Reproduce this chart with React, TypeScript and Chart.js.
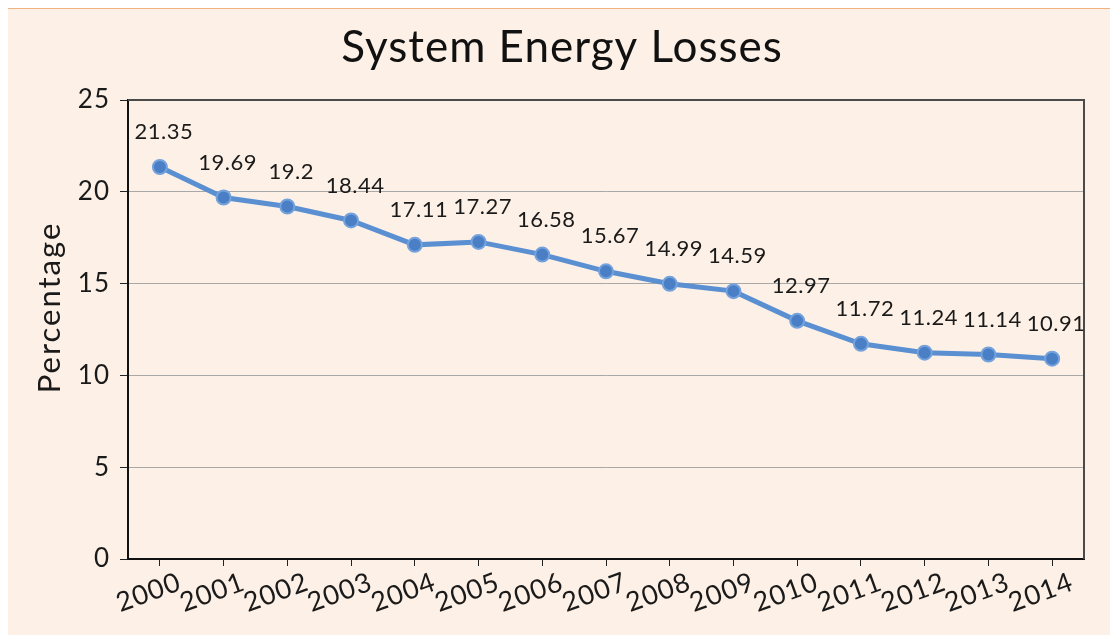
import React, { useEffect, useRef } from "react";
import { Chart, registerables } from "chart.js";

Chart.register(...registerables);

const years = ["2000","2001","2002","2003","2004","2005","2006","2007","2008","2009","2010","2011","2012","2013","2014"];
const losses = [21.35, 19.69, 19.2, 18.44, 17.11, 17.27, 16.58, 15.67, 14.99, 14.59, 12.97, 11.72, 11.24, 11.14, 10.91];
const yTicks = [0, 5, 10, 15, 20, 25];
const chartTitle = "System Energy Losses";
const yTitle = "Percentage";

const FONT = "Lato, 'Open Sans', sans-serif";

const spacingPlugin = {
  id: "spacing",
  beforeUpdate(chart: any) {
    chart.ctx.letterSpacing = "1px";
  },
  beforeDraw(chart: any) {
    chart.ctx.letterSpacing = "1px";
  },
};

const framePlugin = {
  id: "frame",
  beforeDatasetsDraw(chart: any) {
    const { ctx, chartArea: a } = chart;
    ctx.save();
    ctx.strokeStyle = "#4a4a4a";
    ctx.lineWidth = 2;
    ctx.beginPath();
    ctx.moveTo(a.left, a.top);
    ctx.lineTo(a.right, a.top);
    ctx.lineTo(a.right, a.bottom);
    ctx.stroke();
    ctx.restore();
  },
  afterDraw(chart: any) {
    const { ctx, chartArea: a } = chart;
    ctx.save();
    ctx.fillStyle = "#111";
    ctx.font = `44px ${FONT}`;
    ctx.letterSpacing = "1px";
    ctx.textAlign = "center";
    ctx.textBaseline = "middle";
    ctx.fillText(chartTitle, chart.width / 2 + 3, 39);
    ctx.restore();

    ctx.save();
    ctx.fillStyle = "#1a1a1a";
    ctx.font = `31px ${FONT}`;
    ctx.letterSpacing = "2px";
    ctx.textAlign = "center";
    ctx.textBaseline = "middle";
    ctx.translate(42, (a.top + a.bottom) / 2 - 22);
    ctx.rotate(-Math.PI / 2);
    ctx.fillText(yTitle, 0, 0);
    ctx.restore();
  },
};

const valueLabels = {
  id: "valueLabels",
  afterDatasetsDraw(chart: any) {
    const { ctx } = chart;
    const meta = chart.getDatasetMeta(0);
    ctx.save();
    ctx.fillStyle = "#1a1a1a";
    ctx.font = `22px ${FONT}`;
    ctx.letterSpacing = "0.5px";
    ctx.textAlign = "center";
    ctx.textBaseline = "middle";
    meta.data.forEach((pt: any, i: number) => {
      ctx.fillText(String(losses[i]), pt.x + 4, pt.y - 35);
    });
    ctx.restore();
  },
};

export default function App() {
  const ref = useRef<HTMLCanvasElement | null>(null);
  useEffect(() => {
    document.body.style.overflow = "hidden";
    const chart = new Chart(ref.current!, {
      type: "line",
      data: {
        labels: years,
        datasets: [
          {
            data: losses,
            borderColor: "#5a8fd2",
            borderWidth: 5,
            pointRadius: 7,
            pointBackgroundColor: "#4a7fc6",
            pointBorderColor: "#74a2dc",
            pointBorderWidth: 2,
            tension: 0,
          },
        ],
      },
      options: {
        animation: false,
        responsive: false,
        layout: { padding: { left: 0, right: 26, top: 91, bottom: 0 } },
        plugins: {
          legend: { display: false },
          tooltip: { enabled: false },
          title: { display: false },
        },
        scales: {
          x: {
            offset: true,
            afterFit(scale: any) {
              scale.height = 76;
            },
            grid: {
              display: true,
              drawOnChartArea: false,
              tickLength: 7,
              tickColor: "#222",
              offset: false,
            },
            border: { color: "#111", width: 2 },
            ticks: {
              minRotation: 20,
              maxRotation: 20,
              autoSkip: false,
              padding: 0,
              labelOffset: 20,
              color: "#1a1a1a",
              font: { family: FONT, size: 27 },
            },
          },
          y: {
            min: 0,
            max: 25,
            afterFit(scale: any) {
              scale.width = 120;
            },
            afterBuildTicks(scale: any) {
              scale.ticks = yTicks.map((v) => ({ value: v }));
            },
            grid: {
              color: "#a8a8a8",
              lineWidth: 1,
              tickLength: 8,
              tickColor: "#222",
            },
            border: { color: "#111", width: 2 },
            ticks: {
              padding: 10,
              color: "#1a1a1a",
              font: { family: FONT, size: 26 },
            },
          },
        },
      },
      plugins: [spacingPlugin, framePlugin, valueLabels],
    });
    return () => chart.destroy();
  }, []);

  return (
    <div
      style={{
        position: "absolute",
        left: 8,
        top: 8,
        width: 1102,
        height: 626,
        background: "#fdf0e6",
        borderTop: "1px solid #f2b27e",
      }}
    >
      <canvas ref={ref} width={1102} height={626} style={{ display: "block" }} />
    </div>
  );
}
